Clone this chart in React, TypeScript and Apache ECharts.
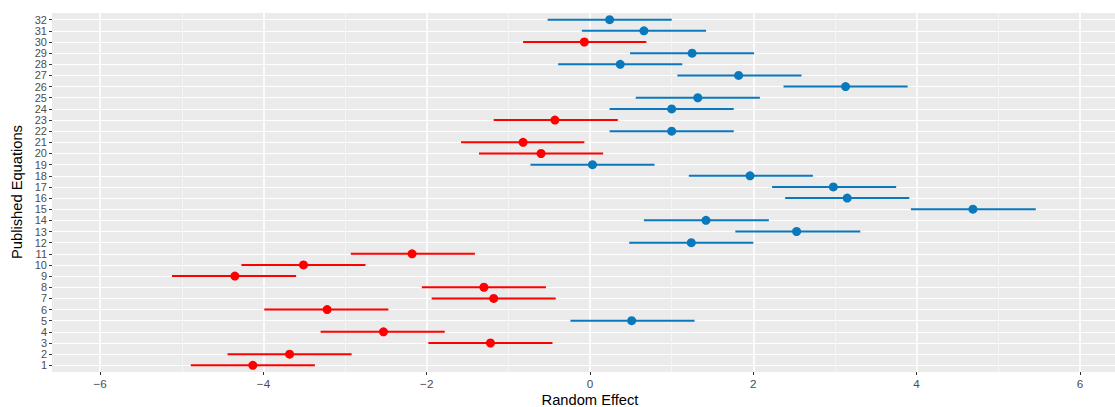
import React, { useEffect, useRef } from "react";
import * as echarts from "echarts";

const equations = Array.from({ length: 32 }, (_, i) => i + 1);
const estimate = [
  -4.13, -3.68, -1.22, -2.53, 0.51, -3.22, -1.18, -1.3, -4.35, -3.51, -2.18, 1.24, 2.53, 1.42, 4.69, 3.15,
  2.98, 1.96, 0.03, -0.6, -0.82, 1.0, -0.43, 1.0, 1.32, 3.13, 1.82, 0.37, 1.25, -0.07, 0.66, 0.24,
];
const lower = [
  -4.89, -4.44, -1.98, -3.3, -0.24, -3.99, -1.94, -2.06, -5.12, -4.27, -2.93, 0.48, 1.78, 0.66, 3.93, 2.39,
  2.23, 1.21, -0.73, -1.36, -1.58, 0.24, -1.18, 0.24, 0.56, 2.37, 1.07, -0.39, 0.49, -0.82, -0.1, -0.52,
];
const upper = [
  -3.37, -2.92, -0.46, -1.78, 1.28, -2.47, -0.42, -0.54, -3.6, -2.75, -1.41, 2.0, 3.31, 2.19, 5.46, 3.91,
  3.75, 2.73, 0.79, 0.16, -0.07, 1.76, 0.34, 1.76, 2.08, 3.89, 2.59, 1.13, 2.01, 0.69, 1.42, 1.0,
];
const xTicks = [-6, -4, -2, 0, 2, 4, 6];
const xMinorTicks = [-5, -3, -1, 1, 3, 5];

const RED = "#FF0000";
const BLUE = "#0A78BC";
const FONT = "Liberation Sans, Arial, sans-serif";

export default function App() {
  const ref = useRef<HTMLDivElement>(null);
  useEffect(() => {
    if (!ref.current) return;
    const chart = echarts.init(ref.current, null, { renderer: "svg" });
    const colorOf = (v: number) => (v < 0 ? RED : BLUE);
    const fmt = (v: number) => (v < 0 ? "\u2212" + Math.abs(v) : String(v));
    chart.setOption({
      animation: false,
      grid: {
        left: 52,
        right: 0,
        top: 13,
        bottom: 35,
        show: true,
        backgroundColor: "#EBEBEB",
        borderWidth: 0,
      },
      xAxis: [
        {
          type: "value",
          min: -6.59,
          max: 6.43,
          position: "bottom",
          axisLine: { show: false, onZero: false },
          axisTick: { show: true, length: 3, lineStyle: { color: "#333333", width: 1 }, customValues: xTicks },
          axisLabel: {
            customValues: xTicks,
            formatter: fmt,
            color: "#4D4D4D",
            fontSize: 11.7,
            fontFamily: FONT,
            margin: 5,
            showMinLabel: true,
            showMaxLabel: true,
          },
          splitLine: { show: true, lineStyle: { color: "#FFFFFF", width: 1.6 } },
          z: 2,
        },
        {
          type: "value",
          min: -6.59,
          max: 6.43,
          gridIndex: 0,
          position: "bottom",
          axisLine: { show: false, onZero: false },
          axisTick: { show: false, customValues: xMinorTicks },
          axisLabel: { show: false, customValues: xMinorTicks },
          splitLine: { show: true, lineStyle: { color: "#F5F5F5", width: 1 } },
          z: 1,
        },
      ],
      yAxis: {
        type: "value",
        min: 0.4,
        max: 32.6,
        position: "left",
        axisLine: { show: false, onZero: false },
        axisTick: { show: true, length: 3, lineStyle: { color: "#333333", width: 1 }, customValues: equations },
        axisLabel: {
          customValues: equations,
          color: "#4D4D4D",
          fontSize: 11,
          fontFamily: FONT,
          margin: 5,
          lineHeight: 9,
          showMinLabel: true,
          showMaxLabel: true,
          hideOverlap: false,
        },
        splitLine: { show: true, lineStyle: { color: "#FFFFFF", width: 1.1 } },
      },
      graphic: [
        {
          type: "text",
          x: 590,
          y: 400,
          style: {
            text: "Random Effect",
            fontSize: 14.7,
            fontFamily: FONT,
            fill: "#000000",
            align: "center",
            verticalAlign: "middle",
          },
        },
        {
          type: "text",
          x: 17,
          y: 192,
          rotation: Math.PI / 2,
          style: {
            text: "Published Equations",
            fontSize: 14.7,
            fontFamily: FONT,
            fill: "#000000",
            align: "center",
            verticalAlign: "middle",
          },
        },
      ],
      series: [
        {
          type: "custom",
          xAxisIndex: 0,
          encode: { x: [0, 1], y: 2 },
          data: equations.map((eq, i) => ({
            value: [lower[i], upper[i], eq],
            itemStyle: { color: colorOf(estimate[i]) },
          })),
          renderItem: (params: any, api: any) => {
            const y = api.value(2);
            const p1 = api.coord([api.value(0), y]);
            const p2 = api.coord([api.value(1), y]);
            return {
              type: "line",
              shape: { x1: p1[0], y1: p1[1], x2: p2[0], y2: p2[1] },
              style: { stroke: api.visual("color"), lineWidth: 2 },
            };
          },
          z: 3,
        },
        {
          type: "scatter",
          xAxisIndex: 0,
          symbol: "circle",
          symbolSize: 9,
          itemStyle: { opacity: 1 },
          data: equations.map((eq, i) => ({
            value: [estimate[i], eq],
            itemStyle: { color: colorOf(estimate[i]), opacity: 1 },
          })),
          z: 4,
        },
      ],
    });
    return () => chart.dispose();
  }, []);
  return (
    <div
      ref={ref}
      style={{ position: "absolute", left: 0, top: 0, width: 1115, height: 407 }}
    />
  );
}
